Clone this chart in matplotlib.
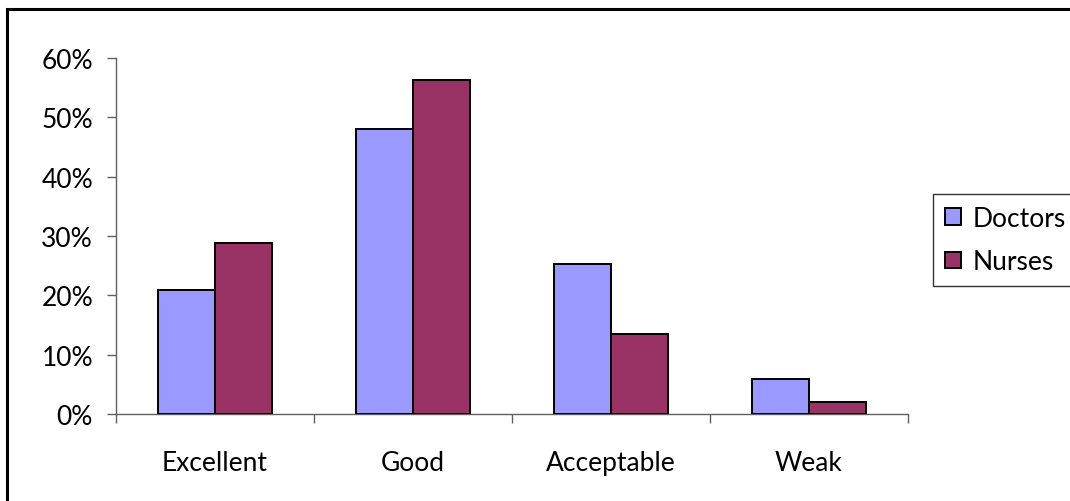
import numpy as np
import matplotlib
matplotlib.use("Agg")
import matplotlib.pyplot as plt
from matplotlib.patches import Rectangle
from matplotlib.ticker import PercentFormatter

categories = ["Excellent", "Good", "Acceptable", "Weak"]
doctors = [20.9, 48.0, 25.3, 5.9]
nurses = [28.8, 56.3, 13.5, 2.0]

DOC_COLOR = "#9999FF"
NUR_COLOR = "#993366"
AXIS_GREY = "#606060"
FS = 19

plt.rcParams["font.family"] = ["Lato", "DejaVu Sans"]

fig = plt.figure(figsize=(10.70, 5.02), dpi=100)
fig.patch.set_facecolor("white")

# chart-area frame, running off the right and bottom edges
fig.patches.append(Rectangle((7 / 1070, -0.05), 1.1, 1 - 10 / 502 + 0.05,
                             transform=fig.transFigure, fill=False,
                             edgecolor="black", linewidth=2.2))

ax = fig.add_axes([116 / 1070, 1 - 415 / 502, 792 / 1070, 356 / 502])

x = np.arange(len(categories))
w = 0.29
ax.bar(x - w / 2, doctors, w, color=DOC_COLOR, edgecolor="black",
       linewidth=1.4, label="Doctors", zorder=3)
ax.bar(x + w / 2, nurses, w, color=NUR_COLOR, edgecolor="black",
       linewidth=1.4, label="Nurses", zorder=3)

ax.set_xlim(-0.5, len(categories) - 0.5)
ax.set_ylim(0, 60)
ax.set_yticks(np.arange(0, 61, 10))
ax.yaxis.set_major_formatter(PercentFormatter(decimals=0))
ax.tick_params(axis="y", length=6.5, width=1, color=AXIS_GREY,
               labelsize=FS, pad=10)

# category labels centred, ticks on the boundaries
ax.set_xticks(x)
ax.set_xticklabels(categories)
ax.set_xticks(np.arange(-0.5, len(categories)), minor=True)
ax.tick_params(axis="x", which="major", length=0, labelsize=FS, pad=26)
ax.tick_params(axis="x", which="minor", length=6.5, width=1, color=AXIS_GREY)

for side in ["top", "right"]:
    ax.spines[side].set_visible(False)
for side in ["left", "bottom"]:
    ax.spines[side].set_color(AXIS_GREY)
    ax.spines[side].set_linewidth(1)

leg = fig.legend(loc="upper left", bbox_to_anchor=(933 / 1070, 1 - 195 / 502),
                 frameon=True, fancybox=False, fontsize=FS,
                 handlelength=0.6, handleheight=0.6, handletextpad=0.45,
                 borderpad=0.45, labelspacing=0.7, borderaxespad=0)
leg.get_frame().set_edgecolor("black")
leg.get_frame().set_linewidth(1)

fig.savefig("out.png", dpi=100)
